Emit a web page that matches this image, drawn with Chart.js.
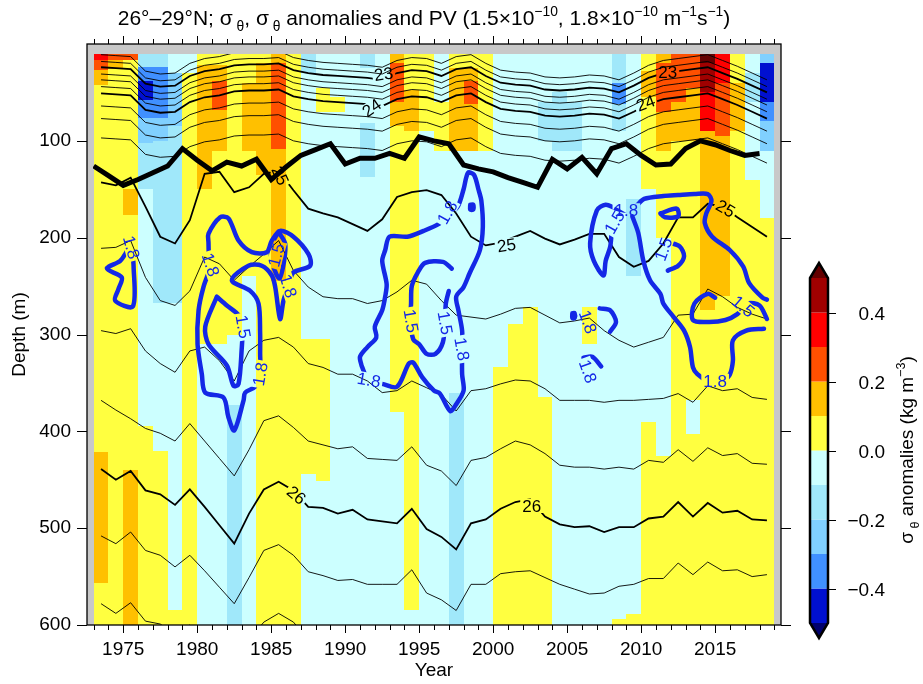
<!DOCTYPE html>
<html>
<head>
<meta charset="utf-8">
<script src="https://cdn.jsdelivr.net/npm/chart.js@4.4.0/dist/chart.umd.min.js"></script>
<style>
  body { margin: 0; background: #fff; }
  #wrap { position: relative; width: 923px; height: 684px; }
</style>
</head>
<body>
<div id="wrap"><canvas id="hov" width="923" height="684"></canvas></div>
<script>
// Columns: one per year, each spans [year, year+1]
const YEARS = [1973,1974,1975,1976,1977,1978,1979,1980,1981,1982,1983,1984,1985,1986,1987,1988,1989,1990,
  1991,1992,1993,1994,1995,1996,1997,1998,1999,2000,2001,2002,2003,2004,2005,2006,2007,2008,2009,2010,
  2011,2012,2013,2014,2015,2016,2017,2018];
const YEAR_TICKS = [1973,1974,1975,1976,1977,1978,1979,1980,1981,1982,1983,1984,1985,1986,1987,1988,1989,1990,
  1991,1992,1993,1994,1995,1996,1997,1998,1999,2000,2001,2002,2003,2004,2005,2006,2007,2008,2009,2010,
  2011,2012,2013,2014,2015,2016,2017,2018,2019];
const YEAR_LABELS = [1975, 1980, 1985, 1990, 1995, 2000, 2005, 2010, 2015];
const DEPTH_TICKS = [100, 200, 300, 400, 500, 600];

// colour classes of sigma-theta anomaly (kg m-3)
const CB_BOUNDS = [-0.5,-0.4,-0.3,-0.2,-0.1,0,0.1,0.2,0.3,0.4,0.5];
const CB_COLORS = ['#0010d0','#4090ff','#80d0ff','#a0e8fa','#ccffff','#ffff40','#ffc000','#ff5000','#ff0000','#a00000'];
const CB_UNDER = '#00006e';
const CB_OVER = '#640000';
const CB_TICKS = [-0.4, -0.2, 0.0, 0.2, 0.4];

// anomaly per year column: [top depth, bottom depth, anomaly]
const ANOM_RUNS = [
  [[10,17,.35],[17,27,.25],[27,42,.15],[42,421,.05],[421,557,.15],[557,600,.05]], // 1973
  [[10,17,.25],[17,26,.15],[26,600,.05]],
  [[10,17,.25],[17,150,.05],[150,177,.15],[177,440,.05],[440,600,.15]],
  [[10,24,-.15],[24,38,-.35],[38,58,-.45],[58,76,-.35],[76,102,-.25],[102,150,-.15],[150,394,-.05],[394,600,.05]],
  [[10,24,-.15],[24,76,-.35],[76,100,-.25],[100,267,-.15],[267,420,-.05],[420,600,.05]],
  [[10,30,-.05],[30,85,-.25],[85,267,-.15],[267,585,-.05],[585,600,.05]],
  [[10,30,-.05],[30,600,.05]],
  [[10,22,.05],[22,150,.15],[150,310,.05],[310,600,-.05]], // 1980
  [[10,22,.05],[22,38,.15],[38,68,.25],[68,110,.15],[110,310,.05],[310,600,-.05]],
  [[10,300,.05],[300,373,-.05],[373,600,-.15]],
  [[10,40,.05],[40,110,.15],[110,240,.05],[240,600,-.05]],
  [[10,20,.05],[20,135,.15],[135,600,.05]],
  [[10,20,.15],[20,108,.25],[108,245,.15],[245,600,.05]],
  [[10,600,.05]],
  [[10,30,-.15],[30,305,-.05],[305,444,.05],[444,600,-.05]],
  [[10,45,-.05],[45,70,.05],[70,305,-.05],[305,451,.05],[451,600,-.05]],
  [[10,55,-.05],[55,70,.05],[70,600,-.05]],
  [[10,600,-.05]], // 1990
  [[10,25,-.15],[25,82,-.05],[82,137,-.15],[137,600,-.05]],
  [[10,600,-.05]],
  [[10,20,.15],[20,60,.25],[60,85,.15],[85,380,.05],[380,600,-.05]],
  [[10,48,.05],[48,90,.15],[90,585,.05],[585,600,-.05]],
  [[10,90,.05],[90,600,-.05]],
  [[10,60,-.05],[60,110,.05],[110,600,-.05]],
  [[10,25,.05],[25,110,.15],[110,360,-.05],[360,600,-.15]],
  [[10,25,.05],[25,38,.15],[38,62,.25],[62,110,.15],[110,600,-.05]],
  [[10,110,.05],[110,600,-.05]],
  [[10,334,-.05],[334,600,.05]], // 2000
  [[10,289,-.05],[289,600,.05]],
  [[10,272,-.05],[272,600,.05]],
  [[10,60,-.05],[60,100,-.15],[100,365,-.05],[365,600,.05]],
  [[10,50,-.05],[50,110,-.15],[110,600,-.05]],
  [[10,60,-.05],[60,110,-.15],[110,600,-.05]],
  [[10,272,-.05],[272,310,.05],[310,600,-.05]],
  [[10,600,-.05]],
  [[10,40,-.15],[40,62,-.35],[62,90,-.15],[90,594,-.05],[594,600,.05]],
  [[10,160,-.05],[160,240,-.15],[240,589,-.05],[589,600,.05]],
  [[10,28,.05],[28,55,.15],[55,150,.05],[150,390,-.05],[390,600,.05]], // 2010
  [[10,20,.15],[20,70,.25],[70,110,.15],[110,200,.05],[200,425,-.05],[425,600,.05]],
  [[10,60,.25],[60,100,.15],[100,600,.05]],
  [[10,45,.25],[45,100,.15],[100,368,.05],[368,403,-.05],[403,600,.05]],
  [[10,20,.55],[20,50,.45],[50,90,.35],[90,275,.15],[275,600,.05]],
  [[10,40,.35],[40,95,.25],[95,260,.15],[260,600,.05]],
  [[10,40,.05],[40,90,.15],[90,600,.05]],
  [[10,30,-.05],[30,60,-.15],[60,140,-.05],[140,600,.05]],
  [[10,20,-.25],[20,60,-.45],[60,80,-.35],[80,110,-.25],[110,180,-.05],[180,600,.05]]  // 2018
];

// depth (m) of sigma-theta surfaces, one value per year (plotted at mid-year)
const ISO_2250 = [11,12,13,28,31,30,20,15,13,9,8,8,7,14,17,19,20,21,22,24,17,14,15,20,13,11,20,27,29,30,34,35,34,32,33,37,30,22,17,15,13,11,17,23,30,37];
const ISO_2275 = [18,19,20,35,38,37,27,22,20,16,15,15,14,21,24,26,27,28,29,31,24,21,22,27,20,18,27,34,36,37,41,42,41,39,40,44,37,29,24,22,20,18,24,30,37,44];
const ISO_2300 = [24,25,26,41,44,43,33,28,26,22,21,21,20,27,30,32,33,34,35,37,30,27,28,33,26,24,33,40,42,43,47,48,47,45,46,50,43,35,30,28,26,24,30,36,43,50];
const ISO_2325 = [31,32,33,48,51,50,40,35,33,29,28,28,27,34,37,39,40,41,42,44,37,34,35,40,33,31,40,47,49,50,54,55,54,52,53,57,50,42,37,35,33,31,37,43,50,57];
const ISO_2350 = [37,38,39,54,57,56,46,41,39,35,34,34,33,40,43,45,46,47,48,50,43,40,41,46,39,37,46,53,55,56,60,61,60,58,59,63,56,48,43,41,39,37,43,49,56,63];
const ISO_2375 = [44,45,46,61,64,63,53,48,46,42,41,41,40,47,50,52,53,54,55,57,50,47,48,53,46,44,53,60,62,63,67,68,67,65,66,70,63,55,50,48,46,44,50,56,63,70];
const ISO_2400 = [51,52,53,68,71,70,60,55,53,49,48,48,47,54,57,59,60,61,62,64,57,54,55,60,53,51,60,67,69,70,74,75,74,72,73,77,70,62,57,55,53,51,57,63,70,77];
const ISO_2425 = [64,65,66,81,84,83,73,68,66,62,61,61,60,67,70,72,73,74,75,77,70,67,68,73,66,64,73,80,82,83,87,88,87,85,86,90,83,75,70,68,66,64,70,76,83,90];
const ISO_2450 = [77,78,79,94,97,96,86,81,79,75,74,74,73,80,83,85,86,87,88,90,83,80,81,86,79,77,86,93,95,96,100,101,100,98,99,103,96,88,83,81,79,77,83,89,96,103];
const ISO_2475 = [97,98,99,114,117,116,106,101,99,95,94,94,93,100,103,105,106,107,108,110,103,100,101,106,99,97,106,113,115,116,120,121,120,118,119,123,116,108,103,101,99,97,103,109,116,123];
const ISO_2500 = [143,146,138,168,199,206,182,134,132,153,148,134,131,151,170,175,179,186,193,181,158,153,151,156,175,199,208,205,199,193,201,207,202,196,196,220,230,224,206,179,179,165,168,179,189,199];
const ISO_2525 = [211,210,203,241,265,270,255,220,227,244,230,217,203,234,251,261,263,263,268,265,256,244,248,265,280,282,284,279,273,272,280,288,286,283,296,306,313,308,303,280,279,253,261,272,279,284];
const ISO_2550 = [296,299,294,317,330,339,317,313,327,348,317,306,303,313,330,334,341,341,348,360,358,348,355,362,379,358,356,351,347,348,356,368,368,368,370,368,368,367,366,361,370,353,358,356,365,367];
const ISO_2575 = [368,378,387,397,402,410,392,410,428,446,419,389,384,396,410,414,418,416,428,429,430,416,435,441,456,430,427,418,410,414,423,435,437,437,439,437,439,430,432,419,431,417,425,423,433,434];
const ISO_2600 = [439,450,441,461,465,476,460,478,497,516,485,460,452,461,478,479,485,481,491,493,495,480,501,509,522,495,491,480,473,470,488,496,499,498,504,499,499,490,488,473,488,474,484,482,491,492];
const ISO_2625 = [508,516,504,523,528,540,528,544,561,578,551,523,517,528,545,549,554,553,558,558,558,543,567,574,585,558,558,547,545,544,551,558,563,568,567,560,558,552,552,536,548,535,544,543,550,548];
const ISO_2650 = [578,588,577,596,599,610,600,612,625,640,615,597,588,597,615,620,625,622,630,630,630,615,640,645,655,630,630,615,612,612,620,630,635,640,640,632,630,622,622,605,618,604,614,613,620,618];
// thick black line (plotted at the start of each year)
const THICK = [126,136,146,140,133,126,108,120,131,122,126,119,140,127,115,109,103,124,118,118,113,118,96,100,103,125,129,132,138,143,148,119,129,117,134,108,103,115,125,124,108,100,104,110,115,113];

// contour labels: [year, depth, text, rotation deg]
const TAGS_23 = [[1992.6,31,'23',-8],[2011.8,29,'23',0]];
const TAGS_24 = [[1991.8,66,'24',-35],[2010.3,61,'24',-20]];
const TAGS_25 = [[1985.6,136,'25',65],[2000.9,208,'25',-8],[2015.7,170,'25',30]];
const TAGS_26 = [[1986.7,466,'26',40],[2002.6,477,'26',0]];

// PV contours, [year, depth] vertices
const PV_A18 = [[1975.55,205],[1975.13,217],[1974.79,224],[1973.9,232],[1974.9,241],[1974.68,253],[1974.45,265],[1975.65,271],[1975.7,230],[1975.55,205]];
const PV_B18 = [[1980.8,235],[1980.76,205],[1980.76,196],[1981.55,179],[1982.11,180],[1982.79,203],[1983.69,215],[1984.7,215],[1985.04,203],[1985.6,193],
  [1986.5,199],[1987.52,217],[1987.63,229],[1986.5,236],[1986.2,248],[1985.83,265],[1985.6,284],[1985.27,251],[1985.04,239],[1984.36,229],[1983.46,229],
  [1982.34,244],[1983.58,255],[1984.14,268],[1984.25,299],[1984.25,320],[1984.25,341],[1983.9,354],[1983.24,360],[1983.13,368],[1982.5,399],[1982.1,385],
  [1981.77,365],[1980.54,360],[1980.31,341],[1980.02,310],[1980.09,275],[1980.42,251],[1980.8,235]];
const PV_B15 = [[1981.32,261],[1982.0,270],[1982.8,280],[1983.05,292],[1983.0,316],[1982.79,351],[1982.45,353],[1982.0,332],[1980.76,310],[1980.54,292],[1981.32,261]];
const PV_B15S = [[1985.49,194],[1985.94,206],[1985.87,224],[1985.56,242],[1985.15,230],[1984.97,210],[1985.49,194]];
const PV_C18 = [[1991.1,332],[1991.0,323],[1991.5,313],[1992.1,303],[1992.0,292],[1992.5,275],[1992.7,261],[1992.8,248],[1992.5,224],[1992.7,213],
  [1993.0,199],[1994.2,199],[1995.3,193],[1996.3,186],[1996.9,178],[1997.6,168],[1998.0,150],[1998.3,133],[1998.7,135],[1999.0,150],[1999.2,162],
  [1999.3,189],[1999.1,213],[1998.4,237],[1998.0,251],[1997.5,261],[1997.65,275],[1997.9,296],[1997.9,315],[1997.9,341],[1998.0,358],[1997.5,372],
  [1997.1,379],[1996.4,361],[1996.0,358],[1995.2,344],[1994.6,329],[1994.3,330],[1993.5,354],[1992.5,351],[1991.6,348],[1991.1,332]];
const PV_C15 = [[1997.2,232],[1996.6,225],[1995.4,226],[1994.9,236],[1994.5,250],[1994.45,268],[1994.4,286],[1994.6,305],[1995.0,310],[1995.5,320],
  [1996.1,320],[1996.6,308],[1996.75,286],[1996.8,268],[1997.0,255]];
const PV_CDOT = [[1998.45,166],[1998.65,166],[1998.65,171],[1998.45,171],[1998.45,166]];
const PV_D18A = [[2008.0,196],[2007.9,210],[2007.6,224],[2007.45,239],[2006.8,224],[2006.55,206],[2007.0,172],[2007.6,166],[2008.3,170],[2009.0,172],
  [2009.6,168],[2010.2,160],[2011.5,157],[2012.5,156],[2013.6,155],[2014.5,155],[2014.75,162],[2014.4,175],[2014.3,185],[2014.8,199],[2016.0,213],
  [2016.9,230],[2017.3,247],[2018.2,262],[2018.5,264]];
const PV_D18B = [[2009.4,178],[2009.8,195],[2010.15,224],[2010.6,244],[2011.3,258],[2011.5,268],[2012.2,282],[2012.9,296],[2013.3,313],[2013.5,334],
  [2013.8,341],[2014.4,347],[2015.0,348],[2015.6,347],[2016.0,341],[2016.2,327],[2016.2,306],[2017.1,296],[2018.3,294]];
const PV_D15A = [[2011.9,205],[2012.6,209],[2012.9,219],[2012.5,229],[2011.8,234]];
const PV_D15B = [[2015.0,262],[2014.5,258],[2013.6,268],[2013.5,285],[2014.6,287],[2015.7,285],[2016.5,279],[2017.2,268],[2018.0,270],[2018.5,284]];
const PV_D15C = [[2011.3,175],[2012.4,170],[2012.5,178],[2011.6,179],[2011.3,175]];
const PV_DDOT = [[2005.35,278],[2005.5,278],[2005.5,283],[2005.35,283],[2005.35,278]];
const PV_D18S1 = [[2007.2,273],[2007.9,275],[2008.3,287],[2007.9,297]];
const PV_D18S2 = [[2006.1,324],[2006.7,323],[2007.3,333]];

const FONT = "'Liberation Sans', Arial, Helvetica, sans-serif";
const BLUE = '#1428e6';

function anomColor(v) {
  if (v < CB_BOUNDS[0]) return CB_UNDER;
  if (v >= CB_BOUNDS[CB_BOUNDS.length - 1]) return CB_OVER;
  for (let i = 0; i < CB_COLORS.length; i++) {
    if (v >= CB_BOUNDS[i] && v < CB_BOUNDS[i + 1]) return CB_COLORS[i];
  }
  return CB_OVER;
}

function isoSet(values, width, tags, shift) {
  return {
    data: values.map((d, i) => ({ x: YEARS[i] + shift, y: d })),
    borderColor: '#000', borderWidth: width, tags: tags || null,
    showLine: true, pointRadius: 0, tension: 0, order: 2,
    clip: { left: -6, right: -7, top: -10, bottom: 0 }
  };
}
function pvSet(points, tags) {
  return {
    data: points.map(p => ({ x: p[0], y: p[1] })),
    borderColor: BLUE, borderWidth: 4.5, tags: tags || null,
    showLine: true, pointRadius: 0, tension: 0.3, order: 0,
    borderCapStyle: 'round', borderJoinStyle: 'round',
    clip: { left: -6, right: -7, top: -10, bottom: 0 }
  };
}

const datasets = [
  pvSet(PV_A18, [[1975.55,210,'1.8',75]]),
  pvSet(PV_B18, [[1980.9,228,'1.8',72],[1986.15,250,'1.8',72],[1984.25,341,'1.8',-80]]),
  pvSet(PV_B15, [[1983.1,292,'1.5',80]]),
  pvSet(PV_B15S, [[1985.35,218,'1.5',-75]]),
  pvSet(PV_C18, [[1991.6,347,'1.8',10],[1996.9,174,'1.8',-60],[1997.88,315,'1.8',80]]),
  pvSet(PV_C15, [[1994.45,286,'1.5',80],[1996.75,288,'1.5',80]]),
  pvSet(PV_CDOT),
  pvSet(PV_D18A, [[2009.0,172,'1.8',0],[2008.2,184,'1.5',-60]]),
  pvSet(PV_D18B, [[2015.0,348,'1.8',0]]),
  pvSet(PV_D15A, [[2011.5,212,'1.5',-70]]),
  pvSet(PV_D15B, [[2016.9,271,'1.5',40]]),
  pvSet(PV_D15C),
  pvSet(PV_DDOT),
  pvSet(PV_D18S1, [[2006.4,287,'1.8',70]]),
  pvSet(PV_D18S2, [[2006.4,338,'1.8',70]]),
  Object.assign(isoSet(THICK, 5, null, 0), { order: 1 }),
  isoSet(ISO_2250, 0.9, null, 0.5),
  isoSet(ISO_2275, 0.9, null, 0.5),
  isoSet(ISO_2300, 1.8, TAGS_23, 0.5),
  isoSet(ISO_2325, 0.9, null, 0.5),
  isoSet(ISO_2350, 0.9, null, 0.5),
  isoSet(ISO_2375, 0.9, null, 0.5),
  isoSet(ISO_2400, 1.8, TAGS_24, 0.5),
  isoSet(ISO_2425, 0.9, null, 0.5),
  isoSet(ISO_2450, 0.9, null, 0.5),
  isoSet(ISO_2475, 0.9, null, 0.5),
  isoSet(ISO_2500, 1.8, TAGS_25, 0.5),
  isoSet(ISO_2525, 0.9, null, 0.5),
  isoSet(ISO_2550, 0.9, null, 0.5),
  isoSet(ISO_2575, 0.9, null, 0.5),
  isoSet(ISO_2600, 1.8, TAGS_26, 0.5),
  isoSet(ISO_2625, 0.9, null, 0.5),
  isoSet(ISO_2650, 0.9, null, 0.5)
];

function tagBox(ctx, cx, cy, w, h, deg) {
  const a = deg * Math.PI / 180, c = Math.cos(a), s = Math.sin(a);
  [[-w/2,-h/2],[w/2,-h/2],[w/2,h/2],[-w/2,h/2]].forEach((p, i) => {
    const x = cx + p[0]*c - p[1]*s, y = cy + p[0]*s + p[1]*c;
    if (i) ctx.lineTo(x, y); else ctx.moveTo(x, y);
  });
  ctx.closePath();
}

// text with sub/superscripts: parts = [text, mode] (0 normal, 1 sub, 2 sup)
const SUB_SCALE = 0.66;
function richWidth(ctx, parts, size) {
  let w = 0;
  parts.forEach(p => { ctx.font = (p[1] ? size*SUB_SCALE : size) + 'px ' + FONT; w += ctx.measureText(p[0]).width; });
  return w;
}
function drawRich(ctx, parts, x, y, size) {
  parts.forEach(p => {
    const s = p[1] ? size*SUB_SCALE : size;
    ctx.font = s + 'px ' + FONT;
    const dy = p[1] === 1 ? size*0.3 : (p[1] === 2 ? -size*0.42 : 0);
    ctx.fillText(p[0], x, y + dy);
    x += ctx.measureText(p[0]).width;
  });
}

const TAG_SIZE = 17;

const hovPlugin = {
  id: 'hov',
  beforeDatasetsDraw(chart) {
    const { ctx, chartArea: a, scales: { x, y } } = chart;
    ctx.save();
    ctx.fillStyle = '#c8c8c8';
    ctx.fillRect(a.left, a.top, a.right - a.left, a.bottom - a.top);
    YEARS.forEach((yr, i) => {
      const x0 = Math.round(x.getPixelForValue(yr)), x1 = Math.round(x.getPixelForValue(yr + 1));
      ANOM_RUNS[i].forEach(r => {
        const y0 = Math.round(y.getPixelForValue(r[0])), y1 = Math.round(y.getPixelForValue(r[1]));
        ctx.fillStyle = anomColor(r[2]);
        ctx.fillRect(x0, y0, x1 - x0, y1 - y0);
      });
    });
    ctx.restore();
  },
  beforeDatasetDraw(chart, args) {
    const ds = chart.data.datasets[args.index];
    if (!ds.tags) return;
    const { ctx, chartArea: a, scales: { x, y } } = chart;
    ctx.save();
    ctx.font = TAG_SIZE + 'px ' + FONT;
    ctx.beginPath();
    ctx.rect(a.left, a.top, a.right - a.left, a.bottom - a.top);
    ds.tags.forEach(t => {
      const w = ctx.measureText(t[2]).width + 4;
      tagBox(ctx, x.getPixelForValue(t[0]), y.getPixelForValue(t[1]), w, TAG_SIZE * 0.85, t[3]);
    });
    ctx.clip('evenodd');
  },
  afterDatasetDraw(chart, args) {
    const ds = chart.data.datasets[args.index];
    if (ds.tags) chart.ctx.restore();
  },
  afterDatasetsDraw(chart) {
    const { ctx, chartArea: a, scales: { x, y } } = chart;
    ctx.save();
    ctx.beginPath();
    ctx.rect(a.left, a.top, a.right - a.left, a.bottom - a.top);
    ctx.clip();
    ctx.font = TAG_SIZE + 'px ' + FONT;
    ctx.textAlign = 'center';
    ctx.textBaseline = 'middle';
    chart.data.datasets.forEach(ds => {
      if (!ds.tags) return;
      ctx.fillStyle = ds.borderColor;
      ds.tags.forEach(t => {
        ctx.save();
        ctx.translate(x.getPixelForValue(t[0]), y.getPixelForValue(t[1]));
        ctx.rotate(t[3] * Math.PI / 180);
        ctx.fillText(t[2], 0, 1);
        ctx.restore();
      });
    });
    ctx.restore();
  },
  afterDraw(chart) {
    const { ctx, chartArea: a, scales: { x, y } } = chart;
    ctx.save();
    // frame and ticks
    ctx.strokeStyle = '#000';
    ctx.lineWidth = 1.3;
    ctx.strokeRect(a.left, a.top, a.right - a.left, a.bottom - a.top);
    ctx.lineWidth = 1;
    ctx.beginPath();
    YEAR_TICKS.forEach(v => {
      const px = Math.round(x.getPixelForValue(v)) + 0.5;
      const len = v % 5 === 0 ? 8 : 5;
      ctx.moveTo(px, a.bottom); ctx.lineTo(px, a.bottom + len);
      ctx.moveTo(px, a.top); ctx.lineTo(px, a.top - len);
    });
    DEPTH_TICKS.forEach(v => {
      const py = Math.round(y.getPixelForValue(v)) + 0.5;
      ctx.moveTo(a.left, py); ctx.lineTo(a.left - 10, py);
      ctx.moveTo(a.right, py); ctx.lineTo(a.right + 10, py);
    });
    ctx.stroke();

    // colour bar
    const cbL = 810, cbR = 828, cbTop = 278, cbBot = 623, tri = 15;
    const lo = CB_BOUNDS[0], hi = CB_BOUNDS[CB_BOUNDS.length - 1];
    const cbY = v => cbBot - (v - lo) / (hi - lo) * (cbBot - cbTop);
    CB_COLORS.forEach((c, i) => {
      ctx.fillStyle = c;
      const y0 = cbY(CB_BOUNDS[i + 1]), y1 = cbY(CB_BOUNDS[i]);
      ctx.fillRect(cbL, y0, cbR - cbL, y1 - y0);
    });
    const cx = (cbL + cbR) / 2;
    ctx.fillStyle = CB_OVER;
    ctx.beginPath(); ctx.moveTo(cbL, cbTop); ctx.lineTo(cx, cbTop - tri); ctx.lineTo(cbR, cbTop); ctx.closePath(); ctx.fill();
    ctx.fillStyle = CB_UNDER;
    ctx.beginPath(); ctx.moveTo(cbL, cbBot); ctx.lineTo(cx, cbBot + tri); ctx.lineTo(cbR, cbBot); ctx.closePath(); ctx.fill();
    ctx.strokeStyle = '#000';
    ctx.lineWidth = 2.5;
    ctx.beginPath();
    ctx.moveTo(cbL, cbTop); ctx.lineTo(cx, cbTop - tri); ctx.lineTo(cbR, cbTop);
    ctx.lineTo(cbR, cbBot); ctx.lineTo(cx, cbBot + tri); ctx.lineTo(cbL, cbBot); ctx.closePath();
    ctx.stroke();
    ctx.lineWidth = 1;
    ctx.fillStyle = '#000';
    ctx.font = '19px ' + FONT;
    ctx.textAlign = 'right';
    ctx.textBaseline = 'middle';
    CB_TICKS.forEach(v => {
      const py = Math.round(cbY(v)) + 0.5;
      ctx.beginPath(); ctx.moveTo(cbR, py); ctx.lineTo(cbR + 8, py); ctx.stroke();
      const s = v.toFixed(1).replace('-', '\u2212');
      ctx.fillText(s, 885, py + 1);
    });
    // colour bar title (rotated)
    ctx.save();
    const cbTitle = [['\u03c3', 0], [' \u03b8', 1], [' anomalies (kg m', 0], ['\u22123', 2], [')', 0]];
    const w = richWidth(ctx, cbTitle, 19);
    ctx.translate(913, 450);
    ctx.rotate(-Math.PI / 2);
    ctx.textAlign = 'left';
    ctx.textBaseline = 'alphabetic';
    drawRich(ctx, cbTitle, -w / 2, 0, 19);
    ctx.restore();

    // chart title
    const title = [['26\u00b0\u201329\u00b0N; \u03c3', 0], [' \u03b8', 1], [', \u03c3', 0], [' \u03b8', 1],
      [' anomalies and PV (1.5\u00d710', 0], ['\u221210', 2], [', 1.8\u00d710', 0], ['\u221210', 2],
      [' m', 0], ['\u22121', 2], ['s', 0], ['\u22121', 2], [')', 0]];
    ctx.textAlign = 'left';
    ctx.textBaseline = 'alphabetic';
    const tw = richWidth(ctx, title, 21);
    drawRich(ctx, title, 424 - tw / 2, 25, 21);
    ctx.restore();
  }
};

new Chart(document.getElementById('hov').getContext('2d'), {
  type: 'scatter',
  data: { datasets },
  options: {
    responsive: false,
    animation: false,
    devicePixelRatio: 1,
    layout: { padding: { left: 0, top: 44, right: 142, bottom: 0 } },
    plugins: { legend: { display: false }, tooltip: { enabled: false } },
    scales: {
      x: {
        type: 'linear', position: 'bottom', min: 1972.55, max: 2019.45,
        grid: { display: false, drawTicks: false }, border: { display: false },
        afterBuildTicks: s => { s.ticks = YEAR_LABELS.map(v => ({ value: v })); },
        afterFit: s => { s.height = 59; },
        ticks: { color: '#000', font: { family: FONT, size: 19 }, padding: 13, maxRotation: 0, autoSkip: false,
          callback: v => String(v) },
        title: { display: true, text: 'Year', color: '#000', font: { family: FONT, size: 19 }, padding: { top: 0, bottom: 2 } }
      },
      y: {
        type: 'linear', position: 'left', reverse: true, min: 0, max: 600,
        grid: { display: false, drawTicks: false }, border: { display: false },
        afterBuildTicks: s => { s.ticks = DEPTH_TICKS.map(v => ({ value: v })); },
        afterFit: s => { s.width = 87; },
        ticks: { color: '#000', font: { family: FONT, size: 19 }, padding: 16, autoSkip: false,
          callback: v => String(v) },
        title: { display: true, text: 'Depth (m)', color: '#000', font: { family: FONT, size: 19 }, padding: { top: 8, bottom: 0 } }
      }
    }
  },
  plugins: [hovPlugin]
});
</script>
</body>
</html>
